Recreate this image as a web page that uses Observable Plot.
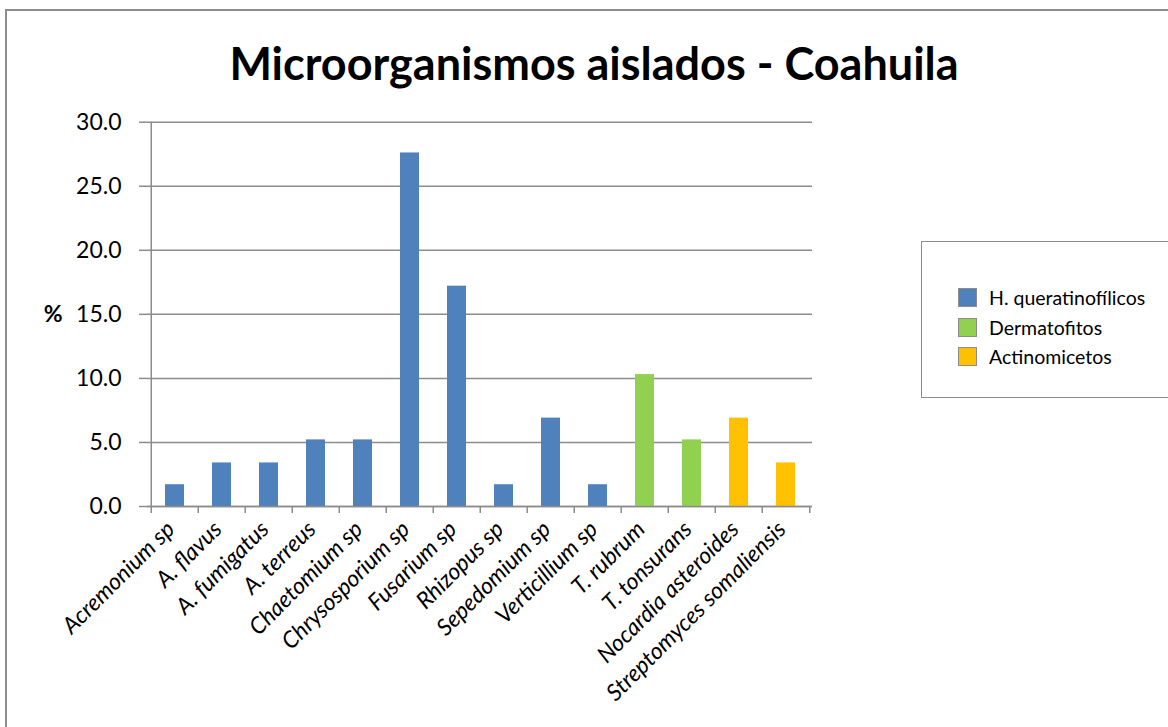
<!DOCTYPE html>
<html>
<head>
<meta charset="utf-8">
<script src="https://cdn.jsdelivr.net/npm/d3@7"></script>
<script src="https://cdn.jsdelivr.net/npm/@observablehq/plot@0.6"></script>
<style>
  html, body { margin: 0; padding: 0; background: #fff; }
  #wrap { position: relative; width: 1168px; height: 727px; overflow: hidden; background: #fff; font-family: Lato, "Open Sans", sans-serif; }
  #frame { position: absolute; left: 5px; top: 9px; width: 1200px; height: 800px; border: 2px solid #8c8c8c; box-sizing: border-box; pointer-events: none; }
  #title { height: 100px; box-sizing: border-box; padding-top: 38px; padding-left: 20px; text-align: center; font-weight: bold; font-size: 45px; line-height: 50px; color: #000; }
  #legend { position: absolute; left: 921px; top: 241px; width: 260px; height: 157px; border: 1.5px solid #8c8c8c; box-sizing: border-box; padding-top: 41px; padding-left: 36px; }
  .item { display: flex; align-items: center; height: 29.5px; font-size: 19.5px; color: #000; }
  .sw { width: 17px; height: 17px; border: 1.5px solid #8c8c8c; margin-right: 12px; }
</style>
</head>
<body>
<div id="wrap">
  <div id="title">Microorganismos aislados - Coahuila</div>
  <div id="chart"></div>
  <div id="legend"></div>
  <div id="frame"></div>
</div>
<script>
const categories = ["Acremonium sp","A. flavus","A. fumigatus","A. terreus","Chaetomium sp","Chrysosporium sp","Fusarium sp","Rhizopus sp","Sepedomium sp","Verticillium sp","T. rubrum","T. tonsurans","Nocardia asteroides","Streptomyces somaliensis"];
const values = [1.7, 3.4, 3.4, 5.2, 5.2, 27.6, 17.2, 1.7, 6.9, 1.7, 10.3, 5.2, 6.9, 3.4];
const groups = ["H. queratinofílicos","H. queratinofílicos","H. queratinofílicos","H. queratinofílicos","H. queratinofílicos","H. queratinofílicos","H. queratinofílicos","H. queratinofílicos","H. queratinofílicos","H. queratinofílicos","Dermatofitos","Dermatofitos","Actinomicetos","Actinomicetos"];
const seriesNames = ["H. queratinofílicos","Dermatofitos","Actinomicetos"];
const seriesColors = ["#4F81BD","#92D050","#FFC000"];
const yTicks = [0, 5, 10, 15, 20, 25, 30];
const yLabel = "%";

const data = categories.map((c, i) => ({category: c, value: values[i], group: groups[i]}));

const W = 1168, H = 627;
const mL = 147, mR = 356, mT = 21.7, mB = 221;
const step = (W - mL - mR) / categories.length;
const gridColor = "#8c8c8c";

const chart = Plot.plot({
  width: W, height: H,
  marginLeft: mL, marginRight: mR, marginTop: mT, marginBottom: mB,
  style: {fontFamily: "Lato, 'Open Sans', sans-serif", color: "#000", background: "transparent"},
  x: {domain: categories, paddingInner: 0.6, paddingOuter: 0.3, axis: null},
  y: {domain: [0, 30], axis: null},
  color: {domain: seriesNames, range: seriesColors},
  marks: [
    Plot.gridY(yTicks, {stroke: gridColor, strokeOpacity: 1, strokeWidth: 1.5}),
    Plot.barY(data, {x: "category", y: "value", fill: "group"}),
    Plot.ruleY([0], {stroke: gridColor, strokeWidth: 1.5}),
    Plot.ruleX([categories[0]], {y1: 0, y2: 30, dx: -step / 2, stroke: gridColor, strokeWidth: 1.5}),
    Plot.axisY(yTicks, {tickFormat: d3.format(".1f"), tickSize: 8, tickPadding: 18, fontSize: 23, stroke: gridColor, strokeWidth: 1.5, label: null, color: "#000"}),
    Plot.axisX(categories, {tickSize: 7, tickFormat: () => "", dx: -step / 2, stroke: gridColor, strokeWidth: 1.5, label: null}),
    Plot.axisX([categories[categories.length - 1]], {tickSize: 7, tickFormat: () => "", dx: step / 2, stroke: gridColor, strokeWidth: 1.5, label: null}),
    Plot.axisX(categories, {tickSize: 0, tickPadding: 19, tickRotate: -45, fontSize: 23, fontStyle: "italic", label: null, dx: -4}),
    Plot.text([yLabel], {frameAnchor: "left", dx: -85, textAnchor: "end", fontSize: 23, fontWeight: "bold", fill: "#000"})
  ]
});
document.getElementById("chart").appendChild(chart);

const legend = document.getElementById("legend");
seriesNames.forEach((name, i) => {
  const item = document.createElement("div");
  item.className = "item";
  const sw = document.createElement("div");
  sw.className = "sw";
  sw.style.background = seriesColors[i];
  const label = document.createElement("span");
  label.textContent = name;
  item.appendChild(sw);
  item.appendChild(label);
  legend.appendChild(item);
});
</script>
</body>
</html>
